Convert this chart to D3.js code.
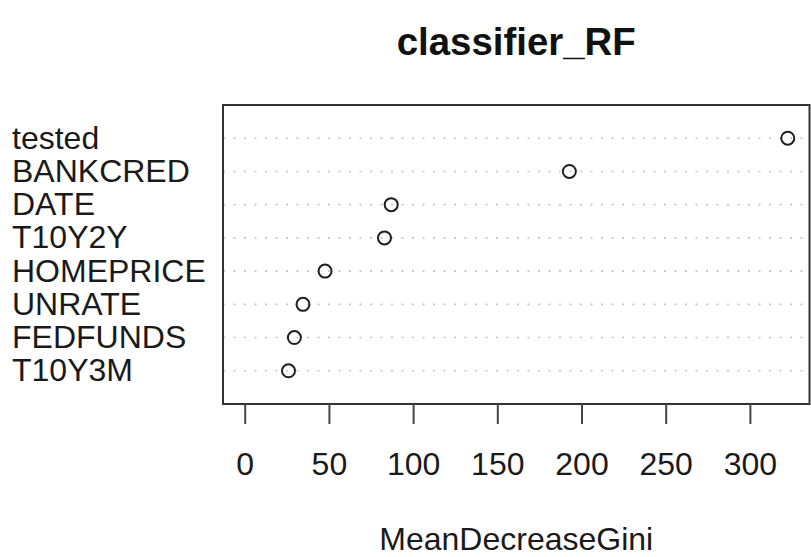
<!DOCTYPE html>
<html>
<head>
<meta charset="utf-8">
<script src="https://cdn.jsdelivr.net/npm/d3@7"></script>
<style>
  html, body { margin: 0; padding: 0; background: #fff; }
  svg { display: block; font-family: "Liberation Sans", Arial, Helvetica, sans-serif; }
</style>
</head>
<body>
<div id="chart"></div>
<script>
// Variable importance, top row first
const features = ['tested', 'BANKCRED', 'DATE', 'T10Y2Y', 'HOMEPRICE', 'UNRATE', 'FEDFUNDS', 'T10Y3M'];
const giniValues = [322.5, 192.8, 87.0, 83.0, 47.7, 34.6, 29.5, 26.0];
const xTicks = [0, 50, 100, 150, 200, 250, 300];
const chartTitle = 'classifier_RF';
const xLabel = 'MeanDecreaseGini';

const width = 811;
const height = 557;
const plot = { left: 223, right: 809.5, top: 105, bottom: 404 };

const svg = d3.select('#chart')
  .append('svg')
  .attr('width', width)
  .attr('height', height);

// R style xlim: c(0, max) padded by 4% on each side
const xMax = d3.max(giniValues);
const pad = xMax * 0.04;
const x = d3.scaleLinear()
  .domain([-pad, xMax + pad])
  .range([plot.left, plot.right]);

const n = features.length;
const y = d3.scaleLinear()
  .domain([0, n + 1])
  .range([plot.bottom, plot.top]);

const rows = features.map((f, i) => ({ name: f, value: giniValues[i], pos: n - i }));

// Dotted guide lines
svg.append('g')
  .selectAll('line')
  .data(rows)
  .join('line')
  .attr('x1', plot.left)
  .attr('x2', plot.right)
  .attr('y1', d => y(d.pos))
  .attr('y2', d => y(d.pos))
  .attr('stroke', '#c4c4c4')
  .attr('stroke-width', 1.6)
  .attr('stroke-dasharray', '2,8.5');

// Points
svg.append('g')
  .selectAll('circle')
  .data(rows)
  .join('circle')
  .attr('cx', d => x(d.value))
  .attr('cy', d => y(d.pos))
  .attr('r', 6.5)
  .attr('fill', 'none')
  .attr('stroke', '#1f1f1f')
  .attr('stroke-width', 2);

// Box
svg.append('rect')
  .attr('x', plot.left)
  .attr('y', plot.top)
  .attr('width', plot.right - plot.left)
  .attr('height', plot.bottom - plot.top)
  .attr('fill', 'none')
  .attr('stroke', '#333')
  .attr('stroke-width', 2);

// Bottom axis
const xAxis = svg.append('g')
  .attr('transform', `translate(0,${plot.bottom})`)
  .call(d3.axisBottom(x)
    .tickValues(xTicks)
    .tickSize(20)
    .tickSizeOuter(0)
    .tickPadding(28));

xAxis.select('.domain').remove();
xAxis.selectAll('.tick line')
  .attr('stroke', '#444')
  .attr('stroke-width', 2);
xAxis.selectAll('.tick text')
  .attr('font-size', '32px')
  .attr('font-family', '"Liberation Sans", Arial, Helvetica, sans-serif')
  .attr('fill', '#1a1a1a');

// Row labels
svg.append('g')
  .selectAll('text')
  .data(rows)
  .join('text')
  .attr('x', 12)
  .attr('y', d => y(d.pos) + 10.5)
  .attr('font-size', '32px')
  .attr('fill', '#1a1a1a')
  .text(d => d.name);

// Title
svg.append('text')
  .attr('x', (plot.left + plot.right) / 2)
  .attr('y', 55)
  .attr('text-anchor', 'middle')
  .attr('font-size', '38.4px')
  .attr('font-weight', 'bold')
  .attr('fill', '#111')
  .text(chartTitle);

// X label
svg.append('text')
  .attr('x', (plot.left + plot.right) / 2)
  .attr('y', 550)
  .attr('text-anchor', 'middle')
  .attr('font-size', '32px')
  .attr('fill', '#1a1a1a')
  .text(xLabel);
</script>
</body>
</html>
